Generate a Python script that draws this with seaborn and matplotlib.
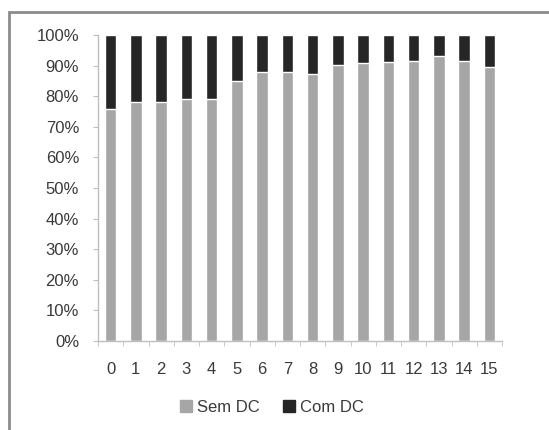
import numpy as np
import matplotlib.pyplot as plt
import pandas as pd
import seaborn as sns
from matplotlib.patches import Rectangle, Patch
from matplotlib.ticker import FuncFormatter

categorias = [str(i) for i in range(16)]
sem_dc = [75.7, 78.2, 78.2, 79.1, 79.1, 85.1, 87.8, 88.0,
          87.1, 90.2, 90.7, 91.3, 91.6, 93.2, 91.5, 89.4]
com_dc = [100 - v for v in sem_dc]

cinza = '#a6a6a6'
preto = '#262626'
texto = '#3a3a3a'

df = pd.DataFrame({'cat': categorias, 'sem': sem_dc, 'com': com_dc})
df['total'] = df['sem'] + df['com']

sns.set_style('white')
plt.rcParams['font.family'] = ['Liberation Sans', 'DejaVu Sans']

fig = plt.figure(figsize=(5.49, 4.30), dpi=100)
ax = fig.add_axes([98 / 549, 1 - 341 / 430, 404 / 549, 306 / 430])

# barra total (escura) por baixo, depois a parte clara
sns.barplot(data=df, x='cat', y='total', color=preto, width=0.45,
            saturation=1, ax=ax)
sns.barplot(data=df, x='cat', y='sem', color=cinza, width=0.45,
            saturation=1, ax=ax)

ax.set_ylim(0, 100)
ax.set_xlim(-0.5, 15.5)
ax.set_yticks(np.arange(0, 101, 10))
ax.yaxis.set_major_formatter(FuncFormatter(lambda v, p: f'{int(v)}%'))
ax.set_xlabel('')
ax.set_ylabel('')

for s in ['top', 'right']:
    ax.spines[s].set_visible(False)
for s in ['left', 'bottom']:
    ax.spines[s].set_color('#bfbfbf')
    ax.spines[s].set_linewidth(1)

ax.tick_params(axis='y', left=True, length=3.6, color='#bfbfbf',
               labelsize=12, labelcolor=texto, pad=10)
ax.tick_params(axis='x', bottom=False, length=0, labelsize=12,
               labelcolor=texto, pad=15)
ax.set_xticks(np.arange(-0.5, 16, 1), minor=True)
ax.tick_params(axis='x', which='minor', bottom=True, length=3.6,
               color='#bfbfbf', direction='out')

handles = [Patch(color=cinza, label='Sem DC'), Patch(color=preto, label='Com DC')]
fig.legend(handles=handles, loc='center', bbox_to_anchor=(0.495, 1 - 407 / 430),
           ncol=2, frameon=False, fontsize=12, labelcolor=texto,
           handlelength=0.7, handleheight=0.7, handletextpad=0.3,
           columnspacing=1.4)

# moldura do gráfico
fig.patches.append(Rectangle((9 / 549, -0.05), 1.1, 1 - 12 / 430 + 0.05,
                             transform=fig.transFigure, fill=False,
                             edgecolor='#8c8c8c', linewidth=2))

fig.savefig('out.png', dpi=100)
